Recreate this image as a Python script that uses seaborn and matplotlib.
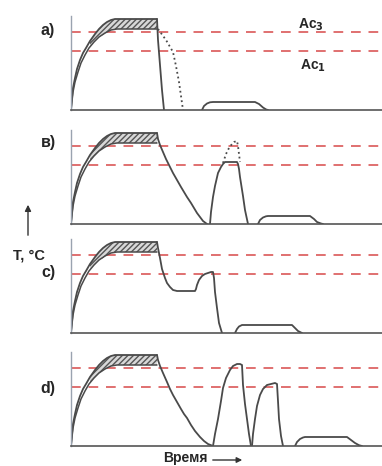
import numpy as np
import matplotlib
matplotlib.use("Agg")
import matplotlib.pyplot as plt
import seaborn as sns

# --- данные схемы (время в усл. ед., температура в усл. ед.) ---
AC3 = 78
AC1 = 59

# общий нагрев: наружная и внутренняя кривая, выдержка
heat_out_t = [0, 1, 2, 4, 6, 9, 12, 15, 19, 24, 28, 32, 36, 40, 44, 86]
heat_out_T = [0, 12, 22, 32, 41, 50, 57, 62, 69, 76, 81, 85, 88, 90, 91, 91]
heat_in_t = [0, 2, 4, 7, 10, 14, 18, 23, 28, 34, 40, 46, 86]
heat_in_T = [0, 18, 28, 38, 47, 55, 62, 68, 73, 77, 80, 81, 81]
hatch_t = [19, 24, 28, 32, 36, 40, 44, 46, 86]
hatch_lo = [64, 69, 73, 75, 78, 80, 81, 81, 81]
hatch_hi = [69, 76, 81, 85, 88, 90, 91, 91, 91]

# a) закалка
a_cool_t = [86, 87, 89, 91, 93]
a_cool_T = [91, 70, 45, 20, 0]
a_dot_t = [87, 95, 102, 105, 108, 110, 112]
a_dot_T = [81, 70, 58, 44, 28, 14, 0]
a_temp_t = [131, 133, 136, 139, 142, 184, 188, 192, 195, 197]
a_temp_T = [0, 4, 6.5, 7.7, 8, 8, 6, 2.5, 0.6, 0]

# в)
b_cool_t = [86, 87, 89, 92, 95, 99, 102, 106, 110, 113, 116, 120, 123, 126, 129, 132, 136]
b_cool_T = [91, 85, 79, 72, 65, 57, 51, 44, 37, 32, 27, 21, 16, 11, 7, 3, 0]
b_peak_t = [139, 140, 142, 144, 147, 150, 152, 154, 166, 167, 168, 169, 172, 174, 177]
b_peak_T = [0, 12, 27, 38, 51, 57, 60, 62, 62, 60, 55, 47, 28, 14, 0]
b_dot_t = [152, 155, 158, 161, 163, 166, 167, 168, 169]
b_dot_T = [61, 70, 76, 80, 82, 83, 78, 70, 62]
b_temp_t = [187, 189, 192, 195, 197, 239, 243, 246, 250, 252]
b_temp_T = [0, 4, 6.5, 7.7, 8, 8, 5, 2, 0.5, 0]

# c)
c_cool_t = [86, 87, 89, 91, 94, 96, 99, 102, 106, 124, 125, 126, 128, 131, 134, 137, 140,
            142, 143, 144, 146, 148, 151]
c_cool_T = [91, 85, 75, 64, 55, 50, 46, 43, 42, 42, 44, 48, 53, 57, 59, 60, 61,
            61, 55, 41, 25, 10, 0]
c_temp_t = [164, 166, 168, 171, 221, 224, 227, 231]
c_temp_T = [0, 4, 6.5, 8, 8, 5, 2, 0]

# d)
d_cool_t = [86, 87, 89, 92, 96, 99, 102, 106, 110, 113, 116, 120, 124, 129, 133, 137, 142]
d_cool_T = [91, 86, 80, 73, 64, 57, 51, 44, 37, 32, 28, 21, 15, 9, 5, 2, 0]
d_peak1_t = [142, 144, 147, 150, 152, 155, 159, 162, 166, 169, 171, 172, 174, 176, 178, 180]
d_peak1_T = [0, 12, 27, 45, 58, 68, 76, 80, 82, 82, 81, 61, 42, 27, 12, 0]
d_peak2_t = [181, 182, 184, 186, 189, 192, 196, 200, 204, 206, 207, 208, 210, 212]
d_peak2_T = [0, 12, 27, 40, 51, 57, 61, 62, 63, 62, 45, 27, 10, 0]
d_temp_t = [224, 226, 229, 232, 234, 276, 280, 284, 288, 291]
d_temp_T = [0, 4, 7, 8.5, 9, 9, 6, 3, 0.8, 0]

panels = [
    ("a)", [(a_cool_t, a_cool_T, "-"), (a_dot_t, a_dot_T, ":"), (a_temp_t, a_temp_T, "-")]),
    ("в)", [(b_cool_t, b_cool_T, "-"), (b_peak_t, b_peak_T, "-"), (b_dot_t, b_dot_T, ":"),
            (b_temp_t, b_temp_T, "-")]),
    ("c)", [(c_cool_t, c_cool_T, "-"), (c_temp_t, c_temp_T, "-")]),
    ("d)", [(d_cool_t, d_cool_T, "-"), (d_peak1_t, d_peak1_T, "-"), (d_peak2_t, d_peak2_T, "-"),
            (d_temp_t, d_temp_T, "-")]),
]

sns.set_theme(style="white")
plt.rcParams['font.family'] = ['Liberation Sans', 'DejaVu Sans']

W, H = 382, 466
fig = plt.figure(figsize=(W / 100, H / 100), dpi=100)
line_c = "#4a4a4a"

baselines = [110, 224, 333, 446]
label_y = [30, 142, 273, 388]
for (name, curves), base, ly in zip(panels, baselines, label_y):
    ax = fig.add_axes([71 / W, (H - base) / H, 311 / W, 94 / H])
    ax.set_xlim(0, 311)
    ax.set_ylim(0, 94)
    for s in ["top", "right"]:
        ax.spines[s].set_visible(False)
    ax.spines["left"].set_color("#9aa3b0")
    ax.spines["left"].set_linewidth(1.0)
    ax.spines["bottom"].set_color("#555555")
    ax.spines["bottom"].set_linewidth(1.2)
    ax.set_xticks([])
    ax.set_yticks([])
    ax.patch.set_alpha(0)

    for yv in [AC3, AC1]:
        ax.axhline(yv, color="#e07070", lw=1.4, ls=(0, (5, 4)), zorder=1)

    ax.fill_between(hatch_t, hatch_lo, hatch_hi, facecolor="#d8d8d8", edgecolor="#555555",
                    hatch="//////", lw=0, zorder=2)
    sns.lineplot(x=heat_out_t, y=heat_out_T, sort=False, estimator=None, color=line_c, lw=1.3, ax=ax)
    sns.lineplot(x=heat_in_t, y=heat_in_T, sort=False, estimator=None, color=line_c, lw=1.1, ax=ax)
    for t, T, ls in curves:
        sns.lineplot(x=t, y=T, sort=False, estimator=None, color=line_c, lw=1.3,
                     linestyle=ls, ax=ax)

    fig.text(48 / W, 1 - ly / H, name, fontsize=11.5, fontweight="bold", ha="center", va="center")

fig.text(298 / W, 1 - 25 / H, r"Ac$_{\mathbf{3}}$", fontsize=10, fontweight="bold", ha="left", va="center")
fig.text(300 / W, 1 - 66 / H, r"Ac$_{\mathbf{1}}$", fontsize=10, fontweight="bold", ha="left", va="center")

fig.text(29 / W, 1 - 256 / H, "T, °C", fontsize=10.5, fontweight="bold", ha="center", va="center")
fig.add_artist(matplotlib.patches.FancyArrowPatch((28 / W, 1 - 238 / H), (28 / W, 1 - 202 / H),
                                                  transform=fig.transFigure, arrowstyle="-|>",
                                                  mutation_scale=9, color="#333333", lw=1))
fig.text(185 / W, 1 - 458 / H, "Время", fontsize=10, fontweight="bold", ha="center", va="center")
fig.add_artist(matplotlib.patches.FancyArrowPatch((210 / W, 1 - 460 / H), (245 / W, 1 - 460 / H),
                                                  transform=fig.transFigure, arrowstyle="-|>",
                                                  mutation_scale=8, color="#333333", lw=1))

fig.savefig("out.png", dpi=100)
